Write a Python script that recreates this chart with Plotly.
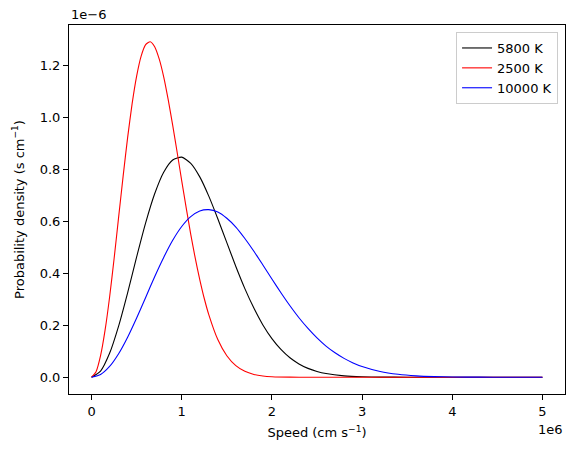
import plotly.graph_objects as go

# Speeds in units of 1e6 cm/s, densities in units of 1e-6 s/cm
speed_red = [0, 0.05, 0.1, 0.15, 0.2, 0.25, 0.3, 0.35, 0.4, 0.45, 0.5, 0.55, 0.6, 0.65, 0.7,
             0.75, 0.8, 0.85, 0.9, 0.95, 1.0, 1.05, 1.1, 1.15, 1.2, 1.25, 1.3, 1.4,
             1.5, 1.6, 1.7, 1.8, 1.9, 2.0, 2.2, 2.4, 2.7, 3.0, 3.5, 4.0, 4.5, 5.0]
dens_red = [0, 0.0211, 0.0829, 0.181, 0.308, 0.456, 0.615, 0.773, 0.922, 1.053, 1.159,
            1.236, 1.280, 1.291, 1.272, 1.225, 1.156, 1.068, 0.969, 0.864, 0.756, 0.651,
            0.550, 0.458, 0.376, 0.303, 0.241, 0.145, 0.0827, 0.0445, 0.0226, 0.0109,
            0.0049, 0.0021, 0.00034, 0.00004, 0, 0, 0, 0, 0, 0]

speed_black = [0, 0.1, 0.2, 0.3, 0.4, 0.5, 0.6, 0.7, 0.8, 0.9, 1.0, 1.1, 1.2, 1.3, 1.4, 1.5,
               1.6, 1.7, 1.8, 1.9, 2.0, 2.1, 2.2, 2.3, 2.4, 2.5, 2.6, 2.8, 3.0, 3.2, 3.5,
               4.0, 4.5, 5.0]
dens_black = [0, 0.0238, 0.0922, 0.197, 0.325, 0.463, 0.594, 0.706, 0.789, 0.836, 0.847,
              0.823, 0.771, 0.697, 0.610, 0.518, 0.426, 0.341, 0.266, 0.201, 0.1485, 0.107,
              0.0748, 0.0512, 0.0341, 0.0222, 0.0141, 0.0053, 0.0018, 0.00057, 0.00008,
              0, 0, 0]

speed_blue = [0, 0.1, 0.2, 0.3, 0.4, 0.5, 0.6, 0.7, 0.8, 0.9, 1.0, 1.1, 1.2, 1.3, 1.4, 1.5,
              1.6, 1.7, 1.8, 1.9, 2.0, 2.1, 2.2, 2.3, 2.4, 2.5, 2.6, 2.7, 2.8, 2.9, 3.0,
              3.2, 3.4, 3.6, 3.8, 4.0, 4.3, 4.6, 5.0]
dens_blue = [0, 0.0105, 0.0414, 0.0904, 0.154, 0.228, 0.307, 0.387, 0.461, 0.527, 0.580,
             0.618, 0.640, 0.645, 0.636, 0.612, 0.578, 0.534, 0.485, 0.432, 0.378, 0.325,
             0.275, 0.229, 0.188, 0.1515, 0.120, 0.0942, 0.0726, 0.0552, 0.0414, 0.0222,
             0.0113, 0.0054, 0.0025, 0.0011, 0.00027, 0.00006, 0.000007]

series = [
    ("5800 K", speed_black, dens_black, "black"),
    ("2500 K", speed_red, dens_red, "red"),
    ("10000 K", speed_blue, dens_blue, "blue"),
]

x_ticks = [0, 1, 2, 3, 4, 5]
y_ticks = [0.0, 0.2, 0.4, 0.6, 0.8, 1.0, 1.2]

fig = go.Figure()
for name, xs, ys, col in series:
    fig.add_trace(go.Scatter(x=xs, y=ys, mode="lines", name=name,
                             line=dict(color=col, width=1.1, shape="spline", smoothing=0.6)))

font = dict(family="DejaVu Sans", size=13, color="black")
axis_common = dict(showline=True, linecolor="black", linewidth=1, mirror=True,
                   ticks="outside", ticklen=5, tickwidth=1, tickcolor="black",
                   showgrid=False, zeroline=False, tickfont=font)

fig.update_layout(
    width=574, height=455,
    margin=dict(l=69, r=9, t=25, b=61),
    paper_bgcolor="white", plot_bgcolor="white",
    font=font,
    xaxis=dict(range=[-0.25, 5.25], tickvals=x_ticks, ticktext=[str(v) for v in x_ticks],
               title=dict(text="Speed (cm s<sup>−1</sup>)", font=font, standoff=10),
               **axis_common),
    yaxis=dict(range=[-0.0645, 1.3555], tickvals=y_ticks,
               ticktext=[f"{v:.1f}" for v in y_ticks],
               title=dict(text="Probability density (s cm<sup>−1</sup>)", font=font, standoff=12),
               **axis_common),
    legend=dict(x=0.986, y=0.981, xanchor="right", yanchor="top",
                bgcolor="rgba(255,255,255,0.8)", bordercolor="#cccccc", borderwidth=1,
                font=font, tracegroupgap=0),
    showlegend=True,
)

fig.add_annotation(text="1e−6", xref="paper", yref="paper", x=0, y=1, xanchor="left",
                   yanchor="bottom", showarrow=False, font=font, yshift=1)
fig.add_annotation(text="1e6", xref="paper", yref="paper", x=1, y=0, xanchor="right",
                   yanchor="top", showarrow=False, font=font, yshift=-26)

fig.write_html("out.html")
